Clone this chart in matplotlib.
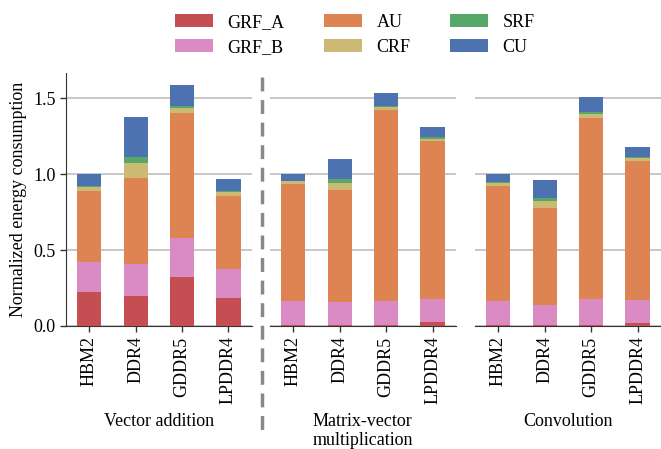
import numpy as np
import matplotlib.pyplot as plt
from matplotlib.lines import Line2D

# memorias e cargas de trabalho
memorias = ["HBM2", "DDR4", "GDDR5", "LPDDR4"]
cargas = ["Vector addition", "Matrix-vector\nmultiplication", "Convolution"]
componentes = ["GRF_A", "GRF_B", "AU", "CRF", "SRF", "CU"]
cores = ["#C44E52", "#DA8BC3", "#DD8452", "#CCB974", "#55A868", "#4C72B0"]

# energia normalizada por componente (uma lista por carga, ordem das memorias)
grf_a = [[0.224, 0.197, 0.322, 0.184],
         [0.009, 0.009, 0.009, 0.026],
         [0.009, 0.009, 0.009, 0.022]]
grf_b = [[0.197, 0.211, 0.257, 0.191],
         [0.155, 0.149, 0.155, 0.152],
         [0.155, 0.129, 0.169, 0.149]]
au = [[0.467, 0.566, 0.822, 0.480],
      [0.770, 0.737, 1.257, 1.039],
      [0.757, 0.638, 1.190, 0.915]]
crf = [[0.029, 0.098, 0.033, 0.029],
       [0.020, 0.046, 0.020, 0.013],
       [0.020, 0.046, 0.027, 0.019]]
srf = [[0.006, 0.040, 0.013, 0.006],
       [0.002, 0.026, 0.006, 0.013],
       [0.006, 0.020, 0.013, 0.007]]
cu = [[0.077, 0.263, 0.139, 0.077],
      [0.044, 0.132, 0.086, 0.066],
      [0.053, 0.119, 0.099, 0.066]]

plt.rcParams['font.family'] = ['Liberation Serif', 'DejaVu Serif']
plt.rcParams['font.size'] = 13

fig = plt.figure(figsize=(6.61, 4.49), dpi=100)
lefts = [0.0998, 0.4085, 0.7186]
eixos = []
for k, carga in enumerate(cargas):
    ax = fig.add_axes([lefts[k], 0.274, 0.281, 0.563])
    eixos.append(ax)
    x = np.arange(len(memorias))
    base = np.zeros(len(memorias))
    series = [grf_a[k], grf_b[k], au[k], crf[k], srf[k], cu[k]]
    for nome, valores, cor in zip(componentes, series, cores):
        ax.bar(x, valores, 0.52, bottom=base, color=cor, label=nome, zorder=3)
        base = base + np.array(valores)
    ax.set_xlim(-0.5, 3.5)
    ax.set_ylim(0, 1.665)
    ax.set_yticks([0.0, 0.5, 1.0, 1.5])
    ax.yaxis.grid(True, color="#b8b8b8", linewidth=1.1, zorder=0)
    ax.set_axisbelow(True)
    ax.set_xticks(x)
    ax.set_xticklabels(memorias, rotation=90)
    ax.set_xlabel(carga, fontsize=13, labelpad=6)
    ax.tick_params(axis="both", length=4, width=1, color="#333333")
    for lado in ["top", "right"]:
        ax.spines[lado].set_visible(False)
    ax.spines["bottom"].set_color("#333333")
    ax.spines["left"].set_color("#333333")
    if k > 0:
        ax.spines["left"].set_visible(False)
        ax.tick_params(axis="y", left=False, labelleft=False)
    else:
        ax.set_ylabel("Normalized energy consumption", fontsize=13)

# separador tracejado entre os graficos
fig.add_artist(Line2D([262 / 661, 262 / 661], [1 - 77 / 449, 1 - 435 / 449],
                      transform=fig.transFigure, color="#888888",
                      linewidth=2.5, linestyle=(0, (4, 2.5))))

handles, labels = eixos[0].get_legend_handles_labels()
fig.legend(handles, labels, loc="upper center", bbox_to_anchor=(0.537, 1.005),
           ncol=3, frameon=False, handlelength=2.1, handleheight=0.75,
           columnspacing=2.2, labelspacing=0.45, handletextpad=0.8, fontsize=13)

plt.savefig("out.png", dpi=100)
